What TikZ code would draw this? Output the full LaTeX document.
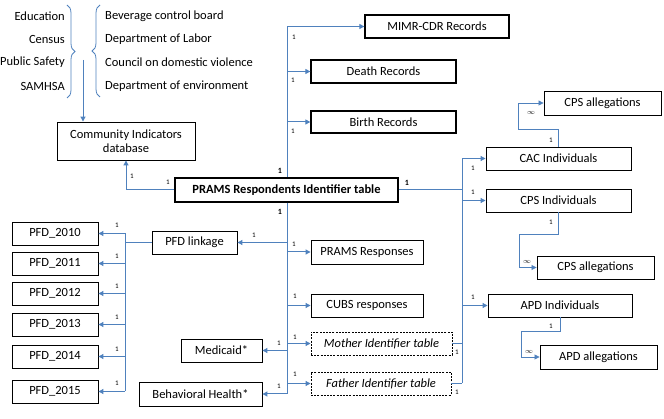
\documentclass[tikz,border=0pt]{standalone}
\usepackage{fontspec}
\setmainfont{Carlito}
\usetikzlibrary{arrows.meta, positioning, calc, decorations.pathreplacing}
\definecolor{linkblue}{RGB}{79,129,189}
\tikzset{
    box/.style={draw=black, line width=0.9pt, fill=white, align=center, inner sep=0pt, minimum height=23pt, font=\fontsize{12.5}{14}\selectfont},
    mainbox/.style={box, line width=1.3pt},
    idbox/.style={box, dash pattern=on 2pt off 1.2pt, font=\fontsize{12.5}{14}\selectfont\itshape},
    src/.style={inner sep=0pt, font=\fontsize{12.5}{14}\selectfont},
    arrow/.style={-{Triangle[length=5pt, width=5pt]}, line width=1pt, linkblue},
    link/.style={line width=1pt, linkblue},
    brace/.style={decorate, decoration={brace, amplitude=8pt}, line width=0.8pt, linkblue},
    card/.style={inner sep=0pt, font=\fontsize{7}{7}\selectfont},
    keycard/.style={card, font=\fontsize{8}{8}\selectfont\bfseries}
}

\begin{document}
\begin{tikzpicture}[x=1pt, y=-1pt]
    \useasboundingbox (0,0) rectangle (664,419);

    % sources feeding the community indicators
    \node [src, anchor=east] (edu) at (65,16) {Education};
    \node [src, anchor=east] (census) at (65,39) {Census};
    \node [src, anchor=east] (safety) at (65,62) {Public Safety};
    \node [src, anchor=east] (samhsa) at (65,86) {SAMHSA};
    \node [src, anchor=west] (bev) at (105,16) {Beverage control board};
    \node [src, anchor=west] (labor) at (105,39) {Department of Labor};
    \node [src, anchor=west] (council) at (105,62) {Council on domestic violence};
    \node [src, anchor=west] (envir) at (105,86) {Department of environment};
    \draw [brace] (67,5) -- (67,98);
    \draw [brace] (100,97) -- (100,5);

    \node [box, minimum width=138pt, minimum height=38pt] (ci) at (126,141) {Community Indicators\\database};
    \coordinate (feed) at (83,60);
    \draw [arrow] (feed) -- (feed |- ci.north);

    % central table
    \node [mainbox, minimum width=223pt, minimum height=24pt, font=\fontsize{12.5}{14}\selectfont\bfseries] (prams) at (286.5,190) {PRAMS Respondents Identifier table};

    \node [mainbox, minimum width=144pt] (mimr) at (437,26.5) {MIMR-CDR Records};
    \node [mainbox, minimum width=145pt] (death) at (383.5,71.5) {Death Records};
    \node [mainbox, minimum width=145pt, minimum height=22pt] (birth) at (383.5,122) {Birth Records};
    \node [box, minimum width=112pt, minimum height=24pt] (resp) at (367,252) {PRAMS Responses};
    \node [box, minimum width=112pt] (cubs) at (367,305.5) {CUBS responses};
    \node [idbox, minimum width=141pt] (mother) at (381.5,343.5) {Mother Identifier table};
    \node [idbox, minimum width=140pt] (father) at (381,383.5) {Father Identifier table};

    \node [box, minimum width=85pt] (pfdl) at (194.5,242.5) {PFD linkage};
    \node [box, minimum width=81pt] (medicaid) at (221.5,350.5) {Medicaid*};
    \node [box, minimum width=123pt, minimum height=24pt] (bh) at (200.5,394) {Behavioral Health*};

    \foreach \yr/\yy in {2010/233.5, 2011/263.5, 2012/293.5, 2013/324.5, 2014/356.5, 2015/391.5}
        \node [box, minimum width=86pt] (pfd\yr) at (55,\yy) {PFD\_\yr};

    % right hand side
    \node [box, minimum width=145pt] (cac) at (558.5,158.5) {CAC Individuals};
    \node [box, minimum width=117pt, minimum height=24pt] (cpsa) at (602.5,103) {CPS allegations};
    \node [box, minimum width=145pt] (cps) at (558.5,200.5) {CPS Individuals};
    \node [box, minimum width=117pt] (cpsb) at (595.5,267.5) {CPS allegations};
    \node [box, minimum width=144pt] (apd) at (560,305.5) {APD Individuals};
    \node [box, minimum width=117pt, minimum height=24pt] (apda) at (598.5,357) {APD allegations};

    % main trunk
    \coordinate (ttop) at (287,26.5);
    \coordinate (tbot) at (ttop |- bh);
    \draw [link] (ttop) -- (ttop |- prams.north);
    \draw [link] (ttop |- prams.south) -- (tbot);
    \draw [arrow] (ttop) -- (mimr);
    \draw [arrow] (ttop |- death) -- (death);
    \draw [arrow] (ttop |- birth) -- (birth);
    \draw [arrow] (ttop |- resp) -- (resp);
    \draw [arrow] (ttop |- cubs) -- (cubs);
    \draw [arrow] (ttop |- mother) -- (mother);
    \draw [arrow] (ttop |- father) -- (father);
    \draw [arrow] (ttop |- pfdl) -- (pfdl);
    \draw [arrow] (ttop |- medicaid) -- (medicaid);
    \draw [arrow] (tbot) -- (bh);
    \draw [arrow] (prams.west) -| (ci.south);

    % pfd years
    \coordinate (pbus) at (125,242.5);
    \draw [link] (pfdl.west) -- (pbus);
    \draw [link] (pbus |- pfd2010) -- (pbus |- pfd2015);
    \foreach \yr in {2010,...,2015}
        \draw [arrow] (pbus |- pfd\yr) -- (pfd\yr);

    % individuals trunk
    \coordinate (rtrunk) at (462,190);
    \draw [link] (prams.east) -- (rtrunk);
    \draw [link] (rtrunk |- cac) -- (rtrunk |- father);
    \draw [link] (mother.east) -- (mother.east -| rtrunk);
    \draw [link] (father.east) -- (father.east -| rtrunk);
    \draw [arrow] (rtrunk |- cac) -- (cac);
    \draw [arrow] (rtrunk |- cps) -- (cps);
    \draw [arrow] (rtrunk |- apd) -- (apd);
    \draw [arrow, line width=0.8pt] (cac.north) -- ++(0,-17) -| (518,103) -- (cpsa.west);
    \draw [arrow, line width=0.8pt] (cps.south) -- ++(0,22) -| (519,267.5) -- (cpsb.west);
    \draw [arrow, line width=0.8pt] (apd.south) -- ++(0,14) -| (521,357) -- (apda.west);

    % cardinalities
    \foreach \px/\py [count=\i] in {132/176, 168/182, 294/37, 293/80, 293/131, 294/244, 295/296, 295/337,
        295/374, 254/235, 279/343, 279/386, 117/225, 117/256, 117/286, 117/317, 117/349, 117/383,
        473/168, 473/192, 473/297, 551/140, 551/222, 551/326, 457/352, 457/392}
        \node [card] (one\i) at (\px,\py) {1};
    \node [keycard] (keya) at (280,171) {1};
    \node [keycard] (keyb) at (280,212) {1};
    \node [keycard] (keyc) at (407,183) {1};
    \node [card] (manya) at (531,113) {$\infty$};
    \node [card] (manyb) at (527,262) {$\infty$};
    \node [card] (manyc) at (529,352) {$\infty$};
\end{tikzpicture}
\end{document}
